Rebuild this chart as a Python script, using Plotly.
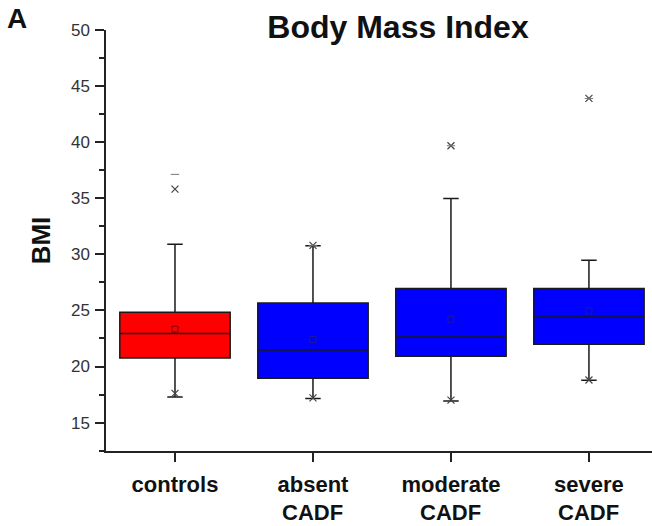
import plotly.graph_objects as go

# ---- data ----
categories = ["controls", "absent CADF", "moderate CADF", "severe CADF"]
label_top = ["controls", "absent", "moderate", "severe"]
label_bottom = ["", "CADF", "CADF", "CADF"]
q1_vals = [20.77, 18.96, 20.92, 21.99]
median_vals = [22.94, 21.48, 22.64, 24.42]
q3_vals = [24.84, 25.67, 26.96, 26.96]
whisker_low = [17.29, 17.15, 16.93, 18.78]
whisker_high = [30.91, 30.76, 34.99, 29.48]
mean_vals = [23.33, 22.41, 24.22, 24.96]
pct1_vals = [17.6, 17.2, 17.0, 18.8]
pct99_vals = [35.82, 30.8, 39.68, 43.9]
max_vals = [37.13, 30.8, 39.68, 43.9]
box_colors = ["#FF0000", "#0000FF", "#0000FF", "#0000FF"]
ytick_vals = [15, 20, 25, 30, 35, 40, 45, 50]

FONT = "Liberation Sans, Arial, sans-serif"
W, H = 652, 526
ML, MR, MT, MB = 106, 0, 30, 75
PW, PH = W - ML - MR, H - MT - MB

fig = go.Figure()

for i, cat in enumerate(categories):
    fig.add_trace(go.Box(
        x=[cat], q1=[q1_vals[i]], median=[median_vals[i]], q3=[q3_vals[i]],
        lowerfence=[whisker_low[i]], upperfence=[whisker_high[i]],
        fillcolor=box_colors[i],
        line=dict(color="#1a1a1a", width=1.5),
        width=0.8, whiskerwidth=0.14,
        boxpoints=False, hoverinfo="skip", showlegend=False,
    ))

# mean markers
fig.add_trace(go.Scatter(
    x=categories, y=mean_vals, mode="markers",
    marker=dict(symbol="square-open", size=6,
                color=["#7a0000", "#1a1a9a", "#1a1a9a", "#1a1a9a"],
                line=dict(width=1)),
    showlegend=False, hoverinfo="skip"))

# 1% / 99% markers
fig.add_trace(go.Scatter(
    x=categories + categories, y=pct1_vals + pct99_vals, mode="markers",
    marker=dict(symbol="x-thin-open", size=7, color="#444",
                line=dict(width=1.2, color="#444")),
    showlegend=False, hoverinfo="skip"))

# max markers
fig.add_trace(go.Scatter(
    x=categories, y=max_vals, mode="markers",
    marker=dict(symbol="line-ew-open", size=6, color="#777",
                line=dict(width=1, color="#777")),
    showlegend=False, hoverinfo="skip"))

# second line of category labels
for cat, txt in zip(categories, label_bottom):
    if txt:
        fig.add_annotation(x=cat, y=0, xref="x", yref="paper",
                           text="<b>%s</b>" % txt, showarrow=False,
                           yanchor="middle", yshift=-(512 - 451),
                           font=dict(family=FONT, size=22, color="#111"))

fig.add_annotation(x=(17 - ML) / PW, y=1 + (MT - 19) / PH,
                   xref="paper", yref="paper", text="<b>A</b>",
                   xanchor="center", yanchor="middle",
                   showarrow=False, font=dict(family=FONT, size=28, color="#111"))

fig.update_layout(
    width=W, height=H,
    margin=dict(l=ML, r=MR, t=MT, b=MB, autoexpand=False),
    paper_bgcolor="white", plot_bgcolor="white",
    showlegend=False,
    title=dict(text="<b>Body Mass Index</b>", x=398 / W, xanchor="center",
               y=1 - 27 / H, yanchor="middle", yref="container",
               font=dict(family=FONT, size=32, color="#111")),
    font=dict(family=FONT, color="#222"),
)

fig.update_xaxes(
    type="category", categoryorder="array", categoryarray=categories,
    range=[-0.5, 3.457],
    tickmode="array", tickvals=categories,
    ticktext=["<b>%s</b>" % t for t in label_top],
    tickfont=dict(family=FONT, size=22, color="#111"),
    ticks="outside", ticklen=9, tickwidth=1.5, tickcolor="#222",
    ticklabelstandoff=4,
    showline=True, linecolor="#222", linewidth=1.5,
    showgrid=False, zeroline=False,
)

fig.update_yaxes(
    range=[12.47, 50],
    tickmode="array", tickvals=ytick_vals,
    tickfont=dict(family=FONT, size=17, color="#333"),
    ticks="outside", ticklen=9, tickwidth=1.5, tickcolor="#222",
    ticklabelstandoff=2,
    minor=dict(dtick=2.5, tick0=12.5, ticks="outside", ticklen=5,
               tickwidth=1.5, tickcolor="#222", showgrid=False),
    showline=True, linecolor="#222", linewidth=1.5,
    showgrid=False, zeroline=False,
    title=dict(text="<b>BMI</b>", font=dict(family=FONT, size=26, color="#111"),
               standoff=13),
)

fig.write_html(
    "out.html",
    config={"displayModeBar": False},
    post_script="document.body.style.margin='0';document.body.style.padding='0';",
)
